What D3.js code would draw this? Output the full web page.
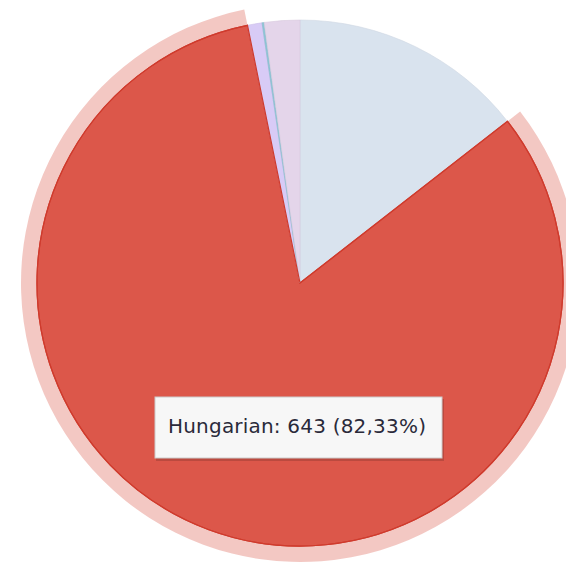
<!DOCTYPE html>
<html>
<head>
<meta charset="utf-8">
<script src="https://cdn.jsdelivr.net/npm/d3@7"></script>
<style>
  body { margin: 0; background: #fff; }
  svg { display: block; }
</style>
</head>
<body>
<div id="chart"></div>
<script>
var width = 566;
var height = 564;
var cx = 300; // pie centre
var cy = 283;
var radius = 263;

// slice data, clockwise from 12 o'clock
var labels = ["Slovak", "Hungarian", "Romanian", "German", "Other"];
var values = [113, 643, 7, 1, 17];
var colors = ["#d9e3ee", "#dc574a", "#d8cbf6", "#8ec5d6", "#e4d5ea"];
var hovered = 1; // index of the highlighted slice

var total = d3.sum(values);

var svg = d3.select("#chart").append("svg")
	.attr("width", width)
	.attr("height", height);

var g = svg.append("g")
	.attr("transform", `translate(${cx},${cy})`);

var pie = d3.pie().sort(null).value(d => d);
var arcs = pie(values);

var arc = d3.arc().innerRadius(0).outerRadius(radius);
var halo = d3.arc().innerRadius(radius).outerRadius(radius + 16);

// halo ring of the hovered slice
g.append("path")
	.attr("d", halo(arcs[hovered]))
	.attr("fill", colors[hovered])
	.attr("fill-opacity", 0.33);

g.selectAll("path.slice")
	.data(arcs)
	.enter().append("path")
	.attr("class", "slice")
	.attr("d", arc)
	.attr("fill", (d, i) => colors[i])
	.attr("stroke", (d, i) => i == hovered ? "#cf3b2d" : d3.color(colors[i]).darker(0.15))
	.attr("stroke-width", (d, i) => i == hovered ? 1.2 : 0.6);

// redraw the hovered slice border on top
g.append("path")
	.attr("d", arc(arcs[hovered]))
	.attr("fill", "none")
	.attr("stroke", "#cf3b2d")
	.attr("stroke-width", 1.2);

// tooltip
var pct = (values[hovered] / total * 100).toFixed(2).replace(".", ",");
var tip = svg.append("g").attr("transform", "translate(155,397)");

tip.append("rect")
	.attr("x", 1).attr("y", 2)
	.attr("width", 288).attr("height", 62)
	.attr("fill", "#000").attr("fill-opacity", 0.15);
tip.append("rect")
	.attr("x", 0).attr("y", 0)
	.attr("width", 287).attr("height", 61)
	.attr("fill", "#f7f7f7")
	.attr("stroke", "#cccccc")
	.attr("stroke-width", 1);
tip.append("text")
	.attr("x", 13)
	.attr("y", 36)
	.attr("font-family", "DejaVu Sans, Verdana, sans-serif")
	.attr("font-size", 20)
	.attr("letter-spacing", 0.2)
	.attr("fill", "#2a2a3a")
	.text(`${labels[hovered]}: ${values[hovered]} (${pct}%)`);
</script>
</body>
</html>
